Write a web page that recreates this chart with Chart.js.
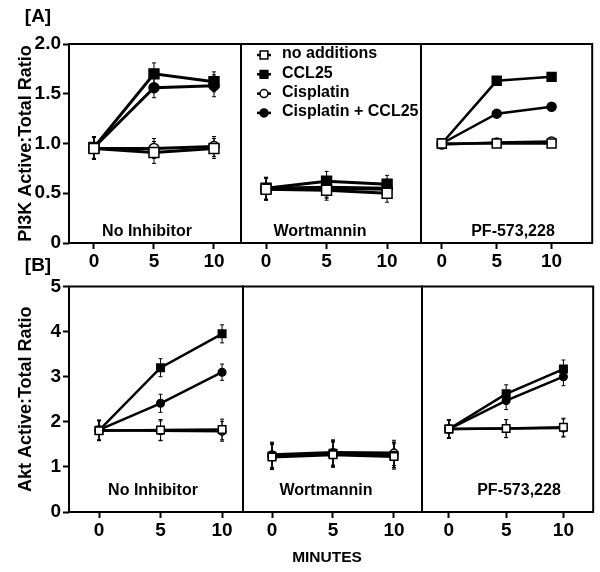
<!DOCTYPE html>
<html>
<head>
<meta charset="utf-8">
<script src="https://cdn.jsdelivr.net/npm/chart.js@4.4.1/dist/chart.umd.min.js"></script>
<style>
body{margin:0;background:#fff;font-family:"Liberation Sans",Arial,sans-serif;}
#fig{position:relative;width:600px;height:572px;}
#fig canvas{position:absolute;left:0;top:0;}
.lbl{position:absolute;transform:translate(-50%,-50%);white-space:nowrap;color:#000;font-weight:bold;}
</style>
</head>
<body>
<div id="fig"></div>
<script>
// data
const minutes = [0, 5, 10];
const seriesNames = ["no additions", "CCL25", "Cisplatin", "Cisplatin + CCL25"];
const panelNames = ["No Inhibitor", "Wortmannin", "PF-573,228"];

const yTicksA = [0, 0.5, 1, 1.5, 2];
const yLabelsA = ["0", "0.5", "1.0", "1.5", "2.0"];
const yTicksB = [0, 1, 2, 3, 4, 5];
const yLabelsB = ["0", "1", "2", "3", "4", "5"];

// [A] PI3K, one row per series (same order as seriesNames)
const pi3kNone = [[0.95, 0.91, 0.95], [0.96, 1.70, 1.62], [0.95, 0.95, 0.97], [0.96, 1.56, 1.58]];
const pi3kNoneErr = [[0.11, 0.11, 0.10], [0.11, 0.11, 0.10], [0.11, 0.10, 0.10], [0.11, 0.10, 0.11]];
const pi3kWort = [[0.54, 0.53, 0.50], [0.55, 0.62, 0.59], [0.54, 0.55, 0.54], [0.55, 0.56, 0.55]];
const pi3kWortErr = [[0.11, 0.10, 0.09], [0.11, 0.10, 0.09], [0.11, 0.10, 0.09], [0.11, 0.10, 0.09]];
const pi3kPF = [[1.00, 1.00, 1.00], [1.00, 1.63, 1.67], [0.99, 1.01, 1.02], [1.00, 1.30, 1.37]];
const pi3kPFErr = [[0.03, 0.03, 0.03], [0.03, 0.03, 0.03], [0.03, 0.03, 0.03], [0.03, 0.03, 0.03]];

// [B] Akt
const aktNone = [[1.80, 1.82, 1.83], [1.81, 3.20, 3.95], [1.81, 1.80, 1.79], [1.82, 2.41, 3.10]];
const aktNoneErr = [[0.22, 0.23, 0.23], [0.22, 0.20, 0.20], [0.22, 0.22, 0.22], [0.22, 0.20, 0.18]];
const aktWort = [[1.22, 1.27, 1.23], [1.24, 1.30, 1.26], [1.27, 1.32, 1.31], [1.25, 1.29, 1.27]];
const aktWortErr = [[0.28, 0.28, 0.28], [0.28, 0.28, 0.28], [0.28, 0.28, 0.28], [0.28, 0.28, 0.28]];
const aktPF = [[1.84, 1.85, 1.88], [1.84, 2.62, 3.17], [1.84, 1.85, 1.86], [1.84, 2.47, 3.00]];
const aktPFErr = [[0.2, 0.2, 0.2], [0.2, 0.2, 0.2], [0.2, 0.2, 0.2], [0.2, 0.2, 0.2]];

// estilos das series
const pointStyles = ["rect", "rect", "circle", "circle"];
const pointFills = ["#fff", "#000", "#fff", "#000"];

const fonte = "'Liberation Sans', Arial, sans-serif";
const fig = document.getElementById("fig");

// plugins
const caixaPlugin = {
  id: "caixa",
  beforeDatasetsDraw(chart) {
    const a = chart.chartArea, ctx = chart.ctx;
    ctx.save();
    ctx.lineWidth = 2;
    ctx.strokeStyle = "#000";
    ctx.strokeRect(a.left, a.top, a.right - a.left, a.bottom - a.top);
    // barras de erro
    ctx.lineWidth = 1;
    chart.data.datasets.forEach((ds, i) => {
      const meta = chart.getDatasetMeta(i);
      meta.data.forEach((pt, j) => {
        const v = ds.data[j].y, e = ds.err[j];
        const y1 = chart.scales.y.getPixelForValue(v - e);
        const y2 = chart.scales.y.getPixelForValue(v + e);
        ctx.beginPath();
        ctx.moveTo(pt.x, y1); ctx.lineTo(pt.x, y2);
        ctx.moveTo(pt.x - 2, y1); ctx.lineTo(pt.x + 2, y1);
        ctx.moveTo(pt.x - 2, y2); ctx.lineTo(pt.x + 2, y2);
        ctx.stroke();
      });
    });
    ctx.restore();
  }
};

const legendaPlugin = {
  id: "legenda",
  afterDatasetsDraw(chart) {
    const ctx = chart.ctx;
    ctx.save();
    chart.data.datasets.forEach((ds, i) => {
      const y = 55 + i * 19.3;
      ctx.strokeStyle = "#000";
      ctx.lineWidth = 2.5;
      ctx.beginPath();
      ctx.moveTo(257, y); ctx.lineTo(271, y);
      ctx.stroke();
      ctx.lineWidth = 1.5;
      ctx.fillStyle = ds.pointBackgroundColor;
      Chart.helpers.drawPoint(ctx, {pointStyle: ds.pointStyle, radius: ds.pointStyle == "rect" ? 5.5 : 4, borderWidth: 1.5}, 264, y);
      ctx.fillStyle = "#000";
      ctx.font = "bold 16px " + fonte;
      ctx.textBaseline = "middle";
      ctx.fillText(ds.label, 282, y - 1);
    });
    ctx.restore();
  }
};

function criaPainel(p) {
  const cvs = document.createElement("canvas");
  cvs.width = 600; cvs.height = 572;
  fig.appendChild(cvs);

  const datasets = seriesNames.map((nome, i) => ({
    label: nome,
    data: minutes.map((m, j) => ({x: m, y: p.values[i][j]})),
    err: p.errs[i],
    borderColor: "#000",
    borderWidth: p.lw,
    pointStyle: pointStyles[i],
    pointRadius: pointStyles[i] == "rect" ? p.r * 1.4 : p.r,
    pointBackgroundColor: pointFills[i],
    pointBorderColor: "#000",
    pointBorderWidth: 1.5,
    tension: 0
  }));

  new Chart(cvs, {
    type: "line",
    data: {datasets},
    plugins: p.legend ? [caixaPlugin, legendaPlugin] : [caixaPlugin],
    options: {
      responsive: false,
      animation: false,
      layout: {padding: {left: p.showY ? 15 : p.box[0], top: p.box[1], right: 600 - p.box[2], bottom: 572 - p.box[3] - 30}},
      plugins: {legend: {display: false}, tooltip: {enabled: false}},
      scales: {
        x: {
          type: "linear", min: p.xr[0], max: p.xr[1],
          afterBuildTicks: s => { s.ticks = minutes.map(v => ({value: v})); },
          afterFit: s => { s.height = 30; },
          ticks: {color: "#000", padding: 1, font: {family: fonte, size: 19, weight: "bold"}},
          grid: {drawOnChartArea: false, tickLength: 6, tickWidth: 2, tickColor: "#000"},
          border: {display: false}
        },
        y: {
          display: p.showY,
          min: p.yt[0], max: p.yt[p.yt.length - 1],
          afterBuildTicks: s => { s.ticks = p.yt.map(v => ({value: v})); },
          afterFit: s => { s.width = p.showY ? 54 : 0; },
          ticks: {color: "#000", padding: 2, font: {family: fonte, size: 19, weight: "bold"},
            callback: v => p.yl[p.yt.indexOf(v)]},
          grid: {drawOnChartArea: false, tickLength: 6, tickWidth: 2, tickColor: "#000"},
          border: {display: false},
          title: {display: true, text: p.yTitle, color: "#000", padding: 0,
            font: {family: fonte, size: 18, weight: "bold"}}
        }
      }
    }
  });
}

// linha A
criaPainel({box: [69, 44, 241, 243], xr: [-2.08, 12.25], yt: yTicksA, yl: yLabelsA, showY: true,
  yTitle: "PI3K Active:Total Ratio", values: pi3kNone, errs: pi3kNoneErr, r: 5, lw: 3});
criaPainel({box: [241, 44, 421, 243], xr: [-2.07, 12.8], yt: yTicksA, yl: yLabelsA, showY: false,
  values: pi3kWort, errs: pi3kWortErr, r: 5, lw: 3, legend: true});
criaPainel({box: [421, 44, 594, 243], xr: [-1.9, 13.7], yt: yTicksA, yl: yLabelsA, showY: false,
  values: pi3kPF, errs: pi3kPFErr, r: 4.5, lw: 2.5});

// linha B
criaPainel({box: [69, 286.5, 243, 512], xr: [-2.44, 11.7], yt: yTicksB, yl: yLabelsB, showY: true,
  yTitle: "Akt Active:Total Ratio", values: aktNone, errs: aktNoneErr, r: 3.8, lw: 2.5});
criaPainel({box: [243, 286.5, 422, 512], xr: [-2.38, 12.3], yt: yTicksB, yl: yLabelsB, showY: false,
  values: aktWort, errs: aktWortErr, r: 3.8, lw: 3});
criaPainel({box: [422, 286.5, 594, 512], xr: [-2.35, 12.6], yt: yTicksB, yl: yLabelsB, showY: false,
  values: aktPF, errs: aktPFErr, r: 3.8, lw: 2.5});

// textos soltos
function texto(t, x, y, tam) {
  const d = document.createElement("div");
  d.className = "lbl";
  d.textContent = t;
  d.style.left = x + "px"; d.style.top = y + "px"; d.style.fontSize = tam + "px";
  fig.appendChild(d);
}
texto("[A]", 38, 16, 19);
texto("[B]", 38, 265, 19);
const centrosA = [147, 320, 513];
const centrosB = [153, 326, 519];
panelNames.forEach((n, i) => {
  texto(n, centrosA[i], 231, 16);
  texto(n, centrosB[i], 490, 16);
});
texto("MINUTES", 327, 557, 15.5);
</script>
</body>
</html>
